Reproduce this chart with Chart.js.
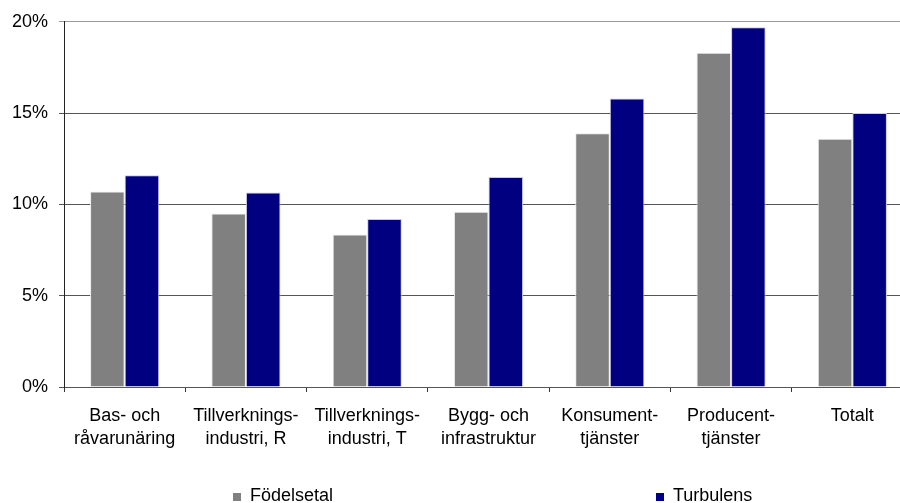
<!DOCTYPE html>
<html>
<head>
<meta charset="utf-8">
<script src="https://cdn.jsdelivr.net/npm/chart.js@4.4.0/dist/chart.umd.min.js"></script>
<style>
  html, body { margin: 0; padding: 0; background: #fff; overflow: hidden; }
  #wrap { position: relative; width: 915px; height: 503px; }
  canvas { display: block; }
</style>
</head>
<body>
<div id="wrap"><canvas id="c" width="915" height="503"></canvas></div>
<script>
const categories = [
  ['Bas- och', 'råvarunäring'],
  ['Tillverknings-', 'industri, R'],
  ['Tillverknings-', 'industri, T'],
  ['Bygg- och', 'infrastruktur'],
  ['Konsument-', 'tjänster'],
  ['Producent-', 'tjänster'],
  'Totalt'
];
const fodelsetal = [10.7, 9.5, 8.35, 9.6, 13.9, 18.3, 13.6];
const turbulens = [11.6, 10.65, 9.2, 11.5, 15.8, 19.7, 15.0];
const yTicks = [0, 5, 10, 15, 20];

const FONT = "'Liberation Sans', Arial, sans-serif";

const legendPlugin = {
  id: 'customLegend',
  afterDraw(chart) {
    const ctx = chart.ctx;
    const xs = [233, 656];
    ctx.save();
    ctx.font = '18px ' + FONT;
    ctx.textBaseline = 'alphabetic';
    ctx.textAlign = 'left';
    chart.data.datasets.forEach((ds, i) => {
      ctx.fillStyle = ds.backgroundColor;
      ctx.fillRect(xs[i], 493, 8, 8);
      ctx.fillStyle = '#000';
      ctx.fillText(ds.label, xs[i] + 17, 501);
    });
    ctx.restore();
  }
};

new Chart(document.getElementById('c'), {
  type: 'bar',
  data: {
    labels: categories,
    datasets: [
      { label: 'Födelsetal', data: fodelsetal, backgroundColor: '#808080',
        borderColor: 'rgba(235,235,235,1)', borderWidth: 1,
        barPercentage: 1.0, categoryPercentage: 0.57 },
      { label: 'Turbulens', data: turbulens, backgroundColor: '#000080',
        borderColor: 'rgba(200,200,235,1)', borderWidth: 1,
        barPercentage: 1.0, categoryPercentage: 0.57 }
    ]
  },
  options: {
    responsive: false,
    animation: false,
    devicePixelRatio: 1,
    layout: { padding: { top: 20, right: 2, bottom: 40, left: 0 } },
    plugins: {
      legend: { display: false },
      tooltip: { enabled: false },
      title: { display: false }
    },
    scales: {
      x: {
        grid: { display: true, offset: true, drawOnChartArea: false, drawTicks: true,
                tickLength: 5, color: '#333' },
        border: { display: true, color: '#555', width: 1 },
        ticks: { color: '#000', font: { family: FONT, size: 18, lineHeight: 1.3 },
                 padding: 12, maxRotation: 0, autoSkip: false },
        afterFit(scale) { scale.height = 76; }
      },
      y: {
        min: 0, max: 20,
        afterBuildTicks(scale) { scale.ticks = yTicks.map(v => ({ value: v })); },
        grid: {
          color: (c) => (c.tick && c.tick.value === 20) ? '#999' : '#555',
          drawTicks: true, tickLength: 5
        },
        border: { display: true, color: '#222', width: 1 },
        ticks: { color: '#000', font: { family: FONT, size: 18 }, padding: 11,
                 callback: (v) => v + '%' },
        afterFit(scale) { scale.width = 64; }
      }
    }
  },
  plugins: [legendPlugin]
});
</script>
</body>
</html>
